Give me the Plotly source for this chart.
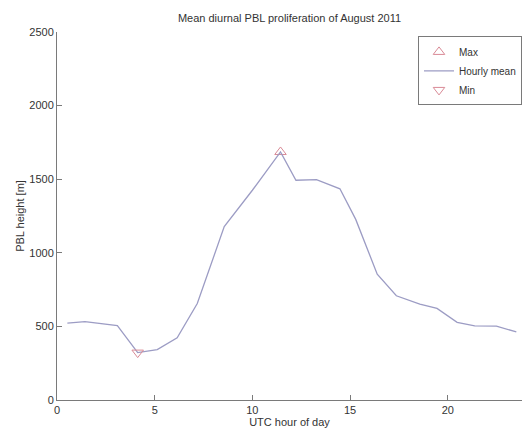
import numpy as np
import plotly.graph_objects as go

# Data
hours = [0.53, 1.43, 3.09, 4.13, 5.13, 6.15, 7.18, 8.56, 10.0, 11.44, 12.23, 13.28, 14.48,
         15.29, 16.39, 17.37, 18.57, 19.45, 20.48, 21.38, 22.49, 23.51]
pbl = [522, 532, 505, 322, 342, 422, 655, 1178, 1425, 1685, 1493, 1497, 1435,
       1227, 855, 708, 652, 622, 528, 503, 502, 462]
x_ticks = [0, 5, 10, 15, 20]
y_ticks = [0, 500, 1000, 1500, 2000, 2500]

LINE_COLOR = "#9c9cc4"
MARK_COLOR = "#d98a96"
AXIS_COLOR = "#7a7a7a"
TEXT_COLOR = "#333333"
FONT = "Liberation Sans, Arial, sans-serif"

imax = int(np.argmax(pbl))
imin = int(np.argmin(pbl))

fig = go.Figure()
fig.add_trace(go.Scatter(
    x=[hours[imax]], y=[pbl[imax]], mode="markers", name="Max",
    marker=dict(symbol="triangle-up-open", size=10, color=MARK_COLOR, line=dict(width=1)),
))
fig.add_trace(go.Scatter(
    x=hours, y=pbl, mode="lines", name="Hourly mean",
    line=dict(color=LINE_COLOR, width=1.3),
))
fig.add_trace(go.Scatter(
    x=[hours[imin]], y=[pbl[imin]], mode="markers", name="Min",
    marker=dict(symbol="triangle-down-open", size=10, color=MARK_COLOR, line=dict(width=1)),
))

fig.update_layout(
    width=522, height=430,
    margin=dict(l=57, r=0, t=32, b=30),
    paper_bgcolor="white", plot_bgcolor="white",
    font=dict(family=FONT, size=11, color=TEXT_COLOR),
    title=dict(text="Mean diurnal PBL proliferation of August 2011",
               x=0.5, xref="paper", xanchor="center",
               y=1, yref="container", yanchor="top", pad=dict(t=14),
               font=dict(size=11, color=TEXT_COLOR)),
    showlegend=True,
    legend=dict(x=1, xanchor="right", y=0.988, yanchor="top",
                bgcolor="white", bordercolor=AXIS_COLOR, borderwidth=1,
                font=dict(size=10, color=TEXT_COLOR), tracegroupgap=0,
                itemwidth=30),
)
fig.update_xaxes(
    range=[0, 23.8], tickvals=x_ticks, ticks="inside", ticklen=5, tickcolor=AXIS_COLOR,
    showline=True, linecolor=AXIS_COLOR, linewidth=1, mirror=False,
    showgrid=False, zeroline=False,
    title=dict(text="UTC hour of day", standoff=2, font=dict(size=11)),
)
fig.update_yaxes(
    range=[0, 2500], tickvals=y_ticks, ticks="inside", ticklen=5, tickcolor=AXIS_COLOR,
    showline=True, linecolor=AXIS_COLOR, linewidth=1, mirror=False,
    showgrid=False, zeroline=False,
    title=dict(text="PBL height [m]", standoff=2, font=dict(size=11)),
)

fig.write_html("out.html")
